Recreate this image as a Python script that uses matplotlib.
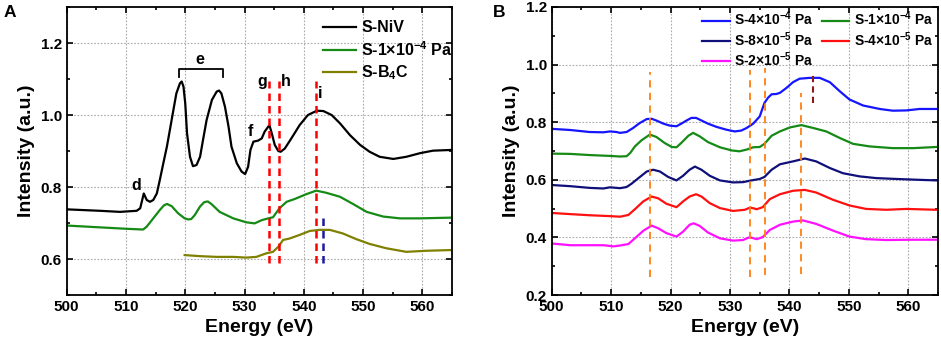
import matplotlib.pyplot as plt
from matplotlib.ticker import MultipleLocator

plt.rcParams['font.family'] = ['Liberation Sans', 'DejaVu Sans']
plt.rcParams['font.weight'] = 'bold'
plt.rcParams['mathtext.fontset'] = 'custom'
plt.rcParams['mathtext.rm'] = 'Liberation Sans:bold'
plt.rcParams['mathtext.bf'] = 'Liberation Sans:bold'
plt.rcParams['mathtext.default'] = 'bf'

# ---- panel A data ----
niv_x = [500, 505.6, 509, 511.8, 512.4, 513.0, 513.5, 514.05, 514.6, 515.2, 515.7, 516.3, 516.9, 517.4,
         518, 518.5, 519.1, 519.4, 519.7, 520, 520.3, 520.8, 521.3, 521.9, 522.5, 523, 523.6, 524.5,
         525.3, 525.7, 526.1, 526.7, 527.3, 527.8, 528.7, 529.5, 530.1, 530.6, 531.0, 531.5, 532.3,
         532.9, 533.4, 534.2, 534.6, 535.1, 535.7, 536.1, 536.8, 537.9, 539.3, 540.7, 542.2, 543.3,
         544.7, 546.1, 547.8, 549.5, 551.1, 552.8, 555.1, 557.3, 559.6, 561.8, 564.9]
niv_y = [0.738, 0.734, 0.731, 0.734, 0.741, 0.782, 0.764, 0.759, 0.764, 0.782, 0.819, 0.866, 0.912, 0.958,
         1.014, 1.060, 1.088, 1.093, 1.079, 1.032, 0.949, 0.884, 0.858, 0.861, 0.884, 0.931, 0.986, 1.042,
         1.065, 1.068, 1.060, 1.023, 0.968, 0.912, 0.866, 0.843, 0.836, 0.856, 0.903, 0.926, 0.929,
         0.935, 0.954, 0.972, 0.949, 0.917, 0.900, 0.898, 0.907, 0.935, 0.972, 1.000, 1.012, 1.011,
         1.000, 0.977, 0.944, 0.917, 0.898, 0.884, 0.878, 0.884, 0.894, 0.901, 0.903]

a_p1e4_x = [500, 505.6, 510.1, 512.9, 513.5, 514.6, 515.7, 516.4, 516.9, 517.7, 518.8, 519.9, 520.5,
            521.0, 521.6, 522.5, 523.2, 523.8, 524.4, 525.8, 528.1, 530.3, 531.7, 532.9, 534, 534.8,
            535.9, 537.1, 538.5, 540.4, 542.1, 543.8, 546.1, 548.3, 550.6, 553.4, 556.2, 559.6, 564.9]
a_p1e4_y = [0.693, 0.688, 0.684, 0.682, 0.690, 0.713, 0.736, 0.749, 0.753, 0.747, 0.727, 0.713, 0.710,
            0.711, 0.722, 0.746, 0.758, 0.760, 0.753, 0.731, 0.713, 0.702, 0.699, 0.708, 0.713, 0.716,
            0.741, 0.759, 0.767, 0.78, 0.79, 0.784, 0.773, 0.753, 0.731, 0.718, 0.713, 0.713, 0.715]

b4c_x = [519.9, 522.5, 525.3, 528.1, 530.3, 532, 533.7, 534.8, 535.7, 536.5, 537.6, 539.3, 541, 542.7,
         544.4, 546.6, 548.9, 551.1, 553.9, 557.3, 560.7, 564.9]
b4c_y = [0.611, 0.608, 0.606, 0.606, 0.604, 0.606, 0.616, 0.62, 0.634, 0.653, 0.657, 0.667, 0.678, 0.681,
         0.681, 0.671, 0.655, 0.642, 0.63, 0.62, 0.623, 0.625]

a_red_lines = [534.2, 535.8, 542.1]
a_blue_line = 543.3
a_labels = ['d', 'f', 'g', 'h', 'i']
a_label_x = [511.7, 531.0, 533.0, 536.9, 542.8]
a_label_y = [0.805, 0.954, 1.093, 1.093, 1.060]

# ---- panel B data ----
b_p4e4_x = [500, 503.1, 506.4, 508.7, 509.8, 510.9, 511.5, 512.6, 513.7, 514.8, 516.0, 516.8, 517.6,
            518.8, 519.9, 521.0, 521.8, 522.7, 523.5, 524.3, 525.2, 526.3, 527.7, 529.4, 530.8, 531.9,
            532.8, 533.9, 535.0, 535.8, 536.4, 537.0, 537.8, 538.4, 539.5, 540.6, 541.7, 543.4, 545.1,
            546.8, 548.5, 550.1, 552.4, 555.2, 557.4, 559.7, 561.9, 564.7]
b_p4e4_y = [0.777, 0.773, 0.766, 0.765, 0.768, 0.766, 0.763, 0.766, 0.780, 0.797, 0.811, 0.812, 0.806,
            0.795, 0.788, 0.786, 0.795, 0.806, 0.815, 0.815, 0.806, 0.795, 0.784, 0.774, 0.768, 0.771,
            0.780, 0.795, 0.820, 0.867, 0.885, 0.897, 0.898, 0.902, 0.919, 0.939, 0.951, 0.954, 0.954,
            0.939, 0.907, 0.879, 0.858, 0.846, 0.840, 0.841, 0.846, 0.846]

b_p1e4_x = [500, 503.1, 506.4, 509.8, 511.5, 512.6, 513.2, 514.0, 515.1, 516.5, 517.6, 519.0, 520.2,
            521.0, 521.8, 523.0, 523.8, 524.9, 526.3, 528.3, 530.3, 531.6, 532.8, 533.9, 535.0, 535.8,
            537.0, 538.4, 540.1, 542.0, 544.0, 546.2, 548.5, 550.7, 553.5, 557.4, 560.8, 564.7]
b_p1e4_y = [0.691, 0.690, 0.686, 0.683, 0.681, 0.682, 0.693, 0.716, 0.737, 0.757, 0.749, 0.728, 0.714,
            0.713, 0.728, 0.753, 0.763, 0.751, 0.731, 0.713, 0.702, 0.699, 0.705, 0.713, 0.714, 0.725,
            0.753, 0.768, 0.782, 0.790, 0.780, 0.768, 0.745, 0.725, 0.716, 0.710, 0.710, 0.714]

b_p8e5_x = [500, 503.1, 506.4, 508.7, 509.8, 511.5, 512.6, 513.4, 514.6, 516.0, 517.1, 518.2, 519.6,
            521.0, 522.1, 523.2, 524.1, 525.2, 526.6, 528.3, 530.5, 532.2, 533.6, 535.0, 535.8, 537.0,
            538.4, 540.6, 542.6, 544.5, 546.8, 549.0, 551.8, 554.6, 558.0, 561.9, 564.7]
b_p8e5_y = [0.582, 0.578, 0.572, 0.570, 0.574, 0.571, 0.575, 0.586, 0.606, 0.629, 0.635, 0.629, 0.610,
            0.598, 0.614, 0.635, 0.646, 0.635, 0.614, 0.598, 0.591, 0.592, 0.598, 0.603, 0.610, 0.635,
            0.654, 0.664, 0.674, 0.664, 0.641, 0.623, 0.612, 0.606, 0.603, 0.600, 0.598]

b_p4e5_x = [500, 503.1, 506.4, 509.8, 511.5, 512.9, 514.0, 515.4, 516.8, 517.9, 519.3, 521.0, 522.1,
            523.2, 524.3, 525.2, 526.6, 528.3, 530.5, 532.5, 533.4, 534.5, 535.5, 536.7, 538.4, 540.6,
            542.6, 544.5, 547.3, 550.1, 552.9, 556.3, 559.7, 564.7]
b_p4e5_y = [0.485, 0.481, 0.477, 0.474, 0.472, 0.478, 0.498, 0.525, 0.542, 0.536, 0.517, 0.505, 0.525,
            0.542, 0.550, 0.542, 0.519, 0.502, 0.492, 0.496, 0.504, 0.498, 0.505, 0.533, 0.550, 0.562,
            0.565, 0.556, 0.531, 0.511, 0.499, 0.496, 0.499, 0.496]

b_p2e5_x = [500, 503.1, 506.4, 508.7, 510.4, 511.5, 512.9, 514.0, 515.4, 516.8, 517.9, 519.3, 521.0,
            522.1, 523.2, 523.9, 524.9, 526.3, 528.3, 530.5, 532.2, 533.3, 534.5, 535.5, 536.7, 538.4,
            540.6, 542.3, 544.5, 547.3, 550.1, 552.9, 556.3, 560.2, 564.7]
b_p2e5_y = [0.379, 0.373, 0.373, 0.373, 0.369, 0.372, 0.377, 0.397, 0.423, 0.441, 0.432, 0.415, 0.403,
            0.420, 0.444, 0.449, 0.440, 0.417, 0.397, 0.389, 0.391, 0.401, 0.394, 0.401, 0.426, 0.444,
            0.455, 0.459, 0.447, 0.424, 0.403, 0.394, 0.391, 0.392, 0.392]

b_orange_x = [516.5, 533.3, 535.9, 542.0]
b_orange_top = [0.976, 0.982, 0.988, 0.900]
b_orange_bot = [0.263, 0.263, 0.268, 0.274]
b_brown_x = 543.9

fig = plt.figure(figsize=(9.41, 3.5), dpi=100)
axA = fig.add_axes([0.0709, 0.157, 0.4094, 0.823])
axB = fig.add_axes([0.5863, 0.157, 0.4105, 0.823])

lw = 1.6
axA.plot(niv_x, niv_y, color='black', lw=lw, label='S-NiV')
axA.plot(a_p1e4_x, a_p1e4_y, color='#158a15', lw=lw, label='S-1×10$^{-4}$ Pa')
axA.plot(b4c_x, b4c_y, color='#808000', lw=lw, label='S-B$_4$C')
for xv in a_red_lines:
    axA.plot([xv, xv], [0.59, 1.095], color='red', lw=1.8, ls=(0, (3, 2)))
axA.plot([a_blue_line, a_blue_line], [0.59, 0.713], color='#1a1aa0', lw=1.8, ls=(0, (3, 2)))
for t, xv, yv in zip(a_labels, a_label_x, a_label_y):
    axA.text(xv, yv, t, fontsize=11.5, fontweight='bold', ha='center', va='center')
axA.text(522.4, 1.153, 'e', fontsize=11.5, fontweight='bold', ha='center', va='center')
axA.plot([518.9, 518.9, 526.3, 526.3], [1.105, 1.128, 1.128, 1.105], color='black', lw=1.3)

axA.set_xlim(500, 565)
axA.set_ylim(0.5, 1.3)
axA.yaxis.set_minor_locator(MultipleLocator(0.1))
axA.set_yticks([0.6, 0.8, 1.0, 1.2])
axA.legend(loc='upper right', bbox_to_anchor=(1.01, 0.965), fontsize=11.5, frameon=False,
           handlelength=2.1, labelspacing=0.3, borderaxespad=0, handletextpad=0.3, borderpad=0.2)

axB.plot(b_p4e4_x, b_p4e4_y, color='#1515ff', lw=lw, label='S-4×10$^{-4}$ Pa')
axB.plot(b_p1e4_x, b_p1e4_y, color='#158a15', lw=lw, label='S-1×10$^{-4}$ Pa')
axB.plot(b_p8e5_x, b_p8e5_y, color='#10107a', lw=lw, label='S-8×10$^{-5}$ Pa')
axB.plot(b_p4e5_x, b_p4e5_y, color='#ff1010', lw=lw, label='S-4×10$^{-5}$ Pa')
axB.plot(b_p2e5_x, b_p2e5_y, color='#ff10ff', lw=lw, label='S-2×10$^{-5}$ Pa')
for xv, t, b in zip(b_orange_x, b_orange_top, b_orange_bot):
    axB.plot([xv, xv], [b, t], color='#ff7f10', lw=1.3, ls=(0, (4, 3)))
axB.plot([b_brown_x, b_brown_x], [0.868, 0.976], color='#8b1a1a', lw=1.5, ls=(0, (3, 2)))

axB.set_xlim(500, 565)
axB.set_ylim(0.2, 1.2)
axB.yaxis.set_major_locator(MultipleLocator(0.2))
axB.yaxis.set_minor_locator(MultipleLocator(0.1))
h, l = axB.get_legend_handles_labels()
order = [0, 2, 4, 1, 3]
axB.legend([h[i] for i in order], [l[i] for i in order], loc='upper right',
           bbox_to_anchor=(0.995, 1.0), ncol=2, fontsize=10, frameon=False, handlelength=2.0,
           labelspacing=0.12, columnspacing=0.6, handletextpad=0.3, borderaxespad=0, borderpad=0.2)

for ax in (axA, axB):
    ax.xaxis.set_major_locator(MultipleLocator(10))
    ax.xaxis.set_minor_locator(MultipleLocator(5))
    ax.grid(True, which='major', color='#aaaaaa', ls=(0, (1.5, 1.5)), lw=0.8)
    ax.tick_params(which='both', direction='in', top=True, right=True, labelsize=11, width=1.2)
    ax.tick_params(which='major', length=4)
    ax.tick_params(which='minor', length=2.5)
    for s in ax.spines.values():
        s.set_linewidth(1.3)
    for lbl in ax.get_xticklabels() + ax.get_yticklabels():
        lbl.set_fontweight('bold')
    ax.set_xlabel('Energy (eV)', fontsize=14, fontweight='bold')
    ax.set_ylabel('Intensity (a.u.)', fontsize=14, fontweight='bold')

fig.text(0.004, 0.985, 'A', fontsize=12.5, fontweight='bold', va='top')
fig.text(0.524, 0.985, 'B', fontsize=12.5, fontweight='bold', va='top')

fig.savefig('out.png', dpi=100)
